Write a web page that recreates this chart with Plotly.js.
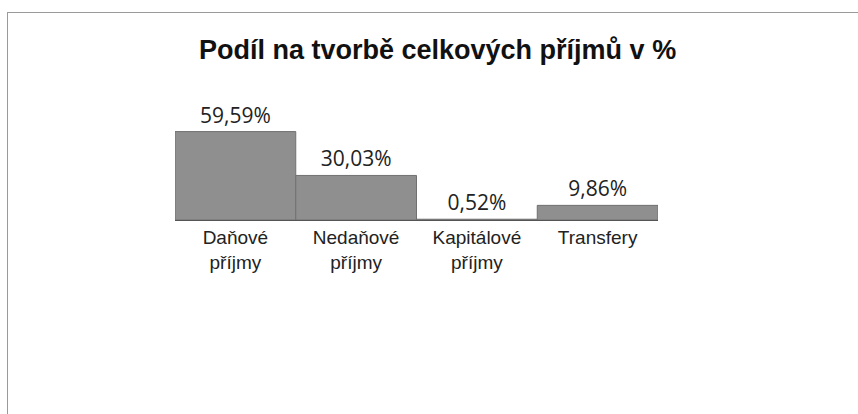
<!DOCTYPE html>
<html>
<head>
<meta charset="utf-8">
<script src="https://cdn.plot.ly/plotly-3.0.1.min.js"></script>
<style>
  html, body { margin: 0; padding: 0; background: #fff; }
  #frame { position: absolute; left: 7px; top: 12px; width: 860px; height: 410px;
           border-left: 1.5px solid #9a9a9a; border-top: 1.5px solid #9a9a9a; }
  #chart { position: absolute; left: 0; top: 0; width: 858px; height: 414px; }
</style>
</head>
<body>
<div id="frame"></div>
<div id="chart"></div>
<script>
const categories = ["Daňové<br>příjmy", "Nedaňové<br>příjmy", "Kapitálové<br>příjmy", "Transfery"];
const shares = [59.59, 30.03, 0.52, 9.86];
const chartTitle = "Podíl na tvorbě celkových příjmů v %";

const trace = {
  type: "bar",
  x: categories,
  y: shares,
  marker: { color: "#8f8f8f", line: { color: "#707070", width: 1 } },
  texttemplate: "%{y:.2f}%",
  textposition: "outside",
  cliponaxis: false,
  textfont: { family: "Open Sans, Arial, sans-serif", size: 21, color: "#222" },
  hoverinfo: "none"
};

const layout = {
  width: 858, height: 414,
  paper_bgcolor: "rgba(0,0,0,0)",
  plot_bgcolor: "rgba(0,0,0,0)",
  separators: ",.",
  showlegend: false,
  bargap: 0,
  margin: { l: 175, r: 200, t: 128, b: 194 },
  title: {
    text: "<b>" + chartTitle + "</b>",
    x: 0.51, xanchor: "center", y: 0.88, yanchor: "middle",
    font: { family: "Liberation Sans, Arial, sans-serif", size: 27, color: "#111" }
  },
  xaxis: {
    showgrid: false, zeroline: false, showline: true, linecolor: "#555", linewidth: 1,
    ticks: "", tickfont: { family: "Liberation Sans, Arial, sans-serif", size: 19, color: "#222" },
    tickangle: 0
  },
  yaxis: {
    range: [0, 62], visible: false, showgrid: false, zeroline: false
  }
};

Plotly.newPlot("chart", [trace], layout, { displayModeBar: false, staticPlot: true });
</script>
</body>
</html>
